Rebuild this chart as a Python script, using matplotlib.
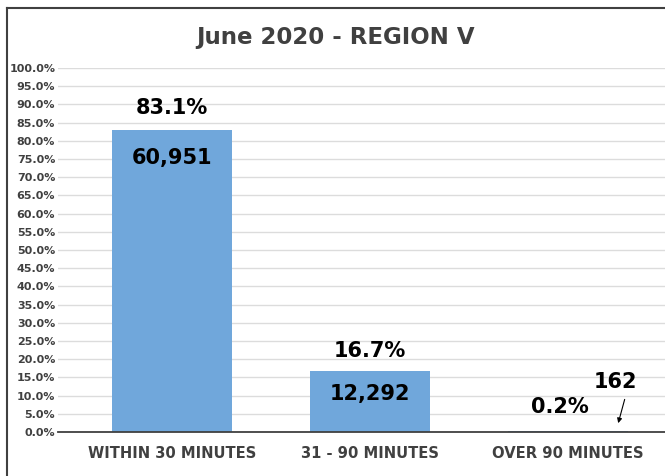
import matplotlib
matplotlib.use("Agg")
import matplotlib.pyplot as plt
from matplotlib.lines import Line2D

categories = ["WITHIN 30 MINUTES", "31 - 90 MINUTES", "OVER 90 MINUTES"]
percents = [83.1, 16.7, 0.2]
counts = ["60,951", "12,292", "162"]
yticks = [i * 5 for i in range(21)]

fig = plt.figure(figsize=(6.65, 4.76), dpi=100)
ax = fig.add_axes([0.0872, 0.0924, 0.9128, 0.7646])

x = list(range(len(categories)))
ax.bar(x, percents, width=0.606, color="#70A7DB", zorder=2)
ax.set_xlim(-0.576, 2.49)
ax.set_ylim(0, 100)
ax.set_yticks(yticks)
ax.set_yticklabels([f"{v:.1f}%" for v in yticks], fontsize=8, fontweight="bold", color="#404040")
ax.set_xticks(x)
ax.set_xticklabels(categories, fontsize=10.6, fontweight="bold", color="#404040")
ax.tick_params(axis="both", length=0)
ax.tick_params(axis="y", pad=2)
ax.tick_params(axis="x", pad=10)
ax.grid(axis="y", color="#dcdcdc", linewidth=1, zorder=0)
for s in ["top", "right", "left"]:
    ax.spines[s].set_visible(False)
ax.spines["bottom"].set_color("#404040")
ax.spines["bottom"].set_linewidth(1.3)

lab = dict(fontsize=15, fontweight="bold", color="black", ha="center", va="center")
ax.text(x[0], percents[0] + 6, f"{percents[0]}%", **lab)
ax.text(x[0], percents[0] - 7.7, counts[0], **lab)
ax.text(x[1], percents[1] + 5.5, f"{percents[1]}%", **lab)
ax.text(x[1], percents[1] - 6.3, counts[1], **lab)
ax.text(x[2] - 0.04, percents[2] + 6.7, f"{percents[2]}%", **lab)
ax.text(x[2] + 0.24, percents[2] + 13.5, counts[2], **lab)
ax.annotate("", xy=(x[2] + 0.25, percents[2] + 1.5), xytext=(x[2] + 0.29, percents[2] + 9.5),
            arrowprops=dict(arrowstyle="-|>", color="black", lw=0.8, mutation_scale=7))

fig.text(0.504, 0.922, "June 2020 - REGION V", fontsize=16.5, fontweight="bold",
         color="#404040", ha="center", va="center")

# frame: top and left edges only (the rest is cropped in the reference)
fx = 7 / 665
fy = 1 - 7.5 / 476
fig.add_artist(Line2D([fx, 1.0], [fy, fy], transform=fig.transFigure, color="#404040", linewidth=1.5))
fig.add_artist(Line2D([fx, fx], [0.0, fy], transform=fig.transFigure, color="#404040", linewidth=1.5))

fig.savefig("out.png", dpi=100)
